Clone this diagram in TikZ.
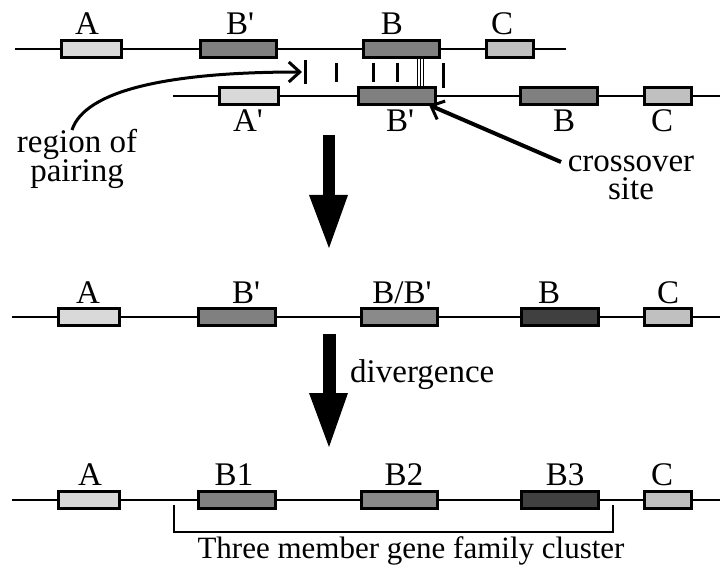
\documentclass[tikz,border=0pt]{standalone}
\usepackage{fontspec}
\setmainfont{Liberation Serif}
\usetikzlibrary{arrows.meta}
\definecolor{glight}{HTML}{D9D9D9}
\definecolor{gmid}{HTML}{808080}
\definecolor{gmidl}{HTML}{8A8A8A}
\definecolor{gsoft}{HTML}{C0C0C0}
\definecolor{gdark}{HTML}{404040}
\newcommand\pr{\textquotesingle}
\begin{document}
\begin{tikzpicture}[x=1pt,y=-1pt,
  dna/.style={line width=2.6pt},
  gbox/.style={draw, line width=2.8pt, minimum height=17pt, inner sep=0pt, outer sep=0pt},
  lbl/.style={font=\fontsize{33}{36}\selectfont, anchor=base, inner sep=0pt},
  twolbl/.style={font=\fontsize{33}{27}\selectfont, align=center, anchor=base, inner sep=0pt},
  smalllbl/.style={font=\fontsize{31}{34}\selectfont, anchor=base, inner sep=0pt},
  tickline/.style={line width=3pt},
  triline/.style={line width=0.8pt},
  bigarrow/.style={fill=black},
  pointer/.style={line width=3pt, -{Straight Barb[length=11pt,width=20pt,line width=3pt]}},
  ]
\useasboundingbox (0,0) rectangle (720,569);

% ---------- row 1 ----------
\coordinate (r1s) at (15,49);
\coordinate (r1e) at (566,49);
\draw[dna] (r1s) -- (r1e);
\node[gbox, fill=glight, minimum width=60pt] (r1A) at (91.5,49) {};
\node[gbox, fill=gmid, minimum width=76pt] (r1Bp) at (238.5,49) {};
\node[gbox, fill=gmid, minimum width=76pt] (r1B) at (401.5,49) {};
\node[gbox, fill=gsoft, minimum width=47pt] (r1C) at (510,49) {};
\node[lbl] (l1A) at (87,35) {A};
\node[lbl] (l1Bp) at (240,35) {B\pr};
\node[lbl] (l1B) at (392,35) {B};
\node[lbl] (l1C) at (502,35) {C};

% ---------- row 2 ----------
\coordinate (r2s) at (173,96);
\coordinate (r2e) at (720,96);
\draw[dna] (r2s) -- (r2e);
\node[gbox, fill=glight, minimum width=59pt] (r2A) at (249,96) {};
\node[gbox, fill=gmid, minimum width=77pt] (r2Bp) at (397,96) {};
\node[gbox, fill=gmid, minimum width=77pt] (r2B) at (559,96) {};
\node[gbox, fill=gsoft, minimum width=47pt] (r2C) at (668,96) {};
\node[lbl] (l2A) at (248,132) {A\pr};
\node[lbl] (l2Bp) at (400,132) {B\pr};
\node[lbl] (l2B) at (564,132) {B};
\node[lbl] (l2C) at (662,132) {C};

% pairing ticks
\draw[tickline] (305,60) -- (305,84);
\draw[tickline] (336,63) -- (336,82);
\draw[tickline] (373,63) -- (373,82);
\draw[tickline] (397,63) -- (397,82);
\draw[tickline] (443,63) -- (443,88);
% crossover triple line
\foreach \xx in {417,420,423}{
  \draw[triline] (\xx,59) -- (\xx,86);
}

% region of pairing (base = baseline of last line)
\node[twolbl] (reg) at (77,182) {region of\\pairing};
\coordinate (regstart) at (72,130);
\coordinate (regend) at (302,72);
\draw[pointer] (regstart) .. controls (85,90) and (170,72) .. (regend);

% crossover site
\node[twolbl, font=\fontsize{33}{28}\selectfont] (cro) at (631,200) {crossover\\site};
\coordinate (crostart) at (561,162);
\coordinate (croend) at (429,105);
\draw[pointer, line width=4pt] (crostart) -- (croend);

% big arrow 1
\fill[bigarrow] (323,135) rectangle (335,196);
\fill[bigarrow] (309,195) -- (348,195) -- (329,248) -- cycle;

% ---------- row 3 ----------
\coordinate (r3s) at (12,317);
\coordinate (r3e) at (720,317);
\draw[dna] (r3s) -- (r3e);
\node[gbox, fill=glight, minimum width=61pt] (r3A) at (89,317) {};
\node[gbox, fill=gmid, minimum width=77pt] (r3Bp) at (237,317) {};
\node[gbox, fill=gmidl, minimum width=76pt] (r3BB) at (399.5,317) {};
\node[gbox, fill=gdark, minimum width=77pt] (r3B) at (560,317) {};
\node[gbox, fill=gsoft, minimum width=47pt] (r3C) at (668,317) {};
\node[lbl] (l3A) at (88,303) {A};
\node[lbl] (l3Bp) at (246,303) {B\pr};
\node[lbl] (l3BB) at (402,303) {B/B\pr};
\node[lbl] (l3B) at (549,303) {B};
\node[lbl] (l3C) at (668,303) {C};

% big arrow 2
\fill[bigarrow] (323,334) rectangle (336,394);
\fill[bigarrow] (309,393) -- (348,393) -- (329,447) -- cycle;
\node[lbl, anchor=base west] (div) at (350,382) {divergence};

% ---------- row 4 ----------
\coordinate (r4s) at (12,500);
\coordinate (r4e) at (720,500);
\draw[dna] (r4s) -- (r4e);
\node[gbox, fill=glight, minimum width=61pt] (r4A) at (89,500) {};
\node[gbox, fill=gmid, minimum width=77pt] (r4B1) at (237,500) {};
\node[gbox, fill=gmidl, minimum width=76pt] (r4B2) at (399.5,500) {};
\node[gbox, fill=gdark, minimum width=77pt] (r4B3) at (560,500) {};
\node[gbox, fill=gsoft, minimum width=47pt] (r4C) at (668,500) {};
\node[lbl] (l4A) at (90,485) {A};
\node[lbl] (l4B1) at (234,485) {B1};
\node[lbl] (l4B2) at (404,485) {B2};
\node[lbl] (l4B3) at (565,485) {B3};
\node[lbl] (l4C) at (662,485) {C};

% cluster bracket
\coordinate (brL) at (174,505);
\coordinate (brR) at (613,505);
\draw[line width=2.2pt] (brL) -- (174,532) -- (613,532) -- (brR);
\node[smalllbl] (clus) at (411,558) {Three member gene family cluster};
\end{tikzpicture}
\end{document}
